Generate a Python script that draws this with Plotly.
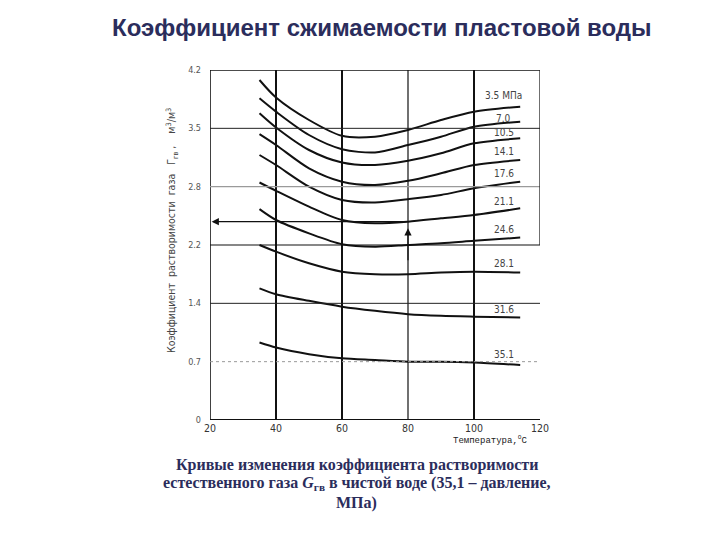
import plotly.graph_objects as go

# ---- data ----
temperature = [35, 40, 50, 60, 70, 80, 90, 100, 114]          # °C
pressures = ["3.5 МПа", "7.0", "10.5", "14.1", "17.6", "21.1", "24.6", "28.1", "31.6", "35.1"]
p_3_5 = [4.08, 3.87, 3.60, 3.41, 3.40, 3.48, 3.60, 3.70, 3.76]
p_7_0 = [3.86, 3.70, 3.42, 3.25, 3.21, 3.30, 3.40, 3.52, 3.58]
p_10_5 = [3.68, 3.51, 3.24, 3.09, 3.06, 3.11, 3.20, 3.32, 3.38]
p_14_1 = [3.43, 3.30, 3.02, 2.86, 2.82, 2.87, 2.96, 3.06, 3.12]
p_17_6 = [3.18, 3.06, 2.80, 2.64, 2.61, 2.65, 2.70, 2.78, 2.86]
p_21_1 = [2.85, 2.75, 2.56, 2.40, 2.36, 2.38, 2.42, 2.46, 2.54]
p_24_6 = [2.53, 2.40, 2.24, 2.11, 2.08, 2.10, 2.12, 2.15, 2.19]
p_28_1 = [2.10, 2.02, 1.88, 1.78, 1.75, 1.75, 1.77, 1.78, 1.77]
p_31_6 = [1.58, 1.51, 1.43, 1.36, 1.31, 1.27, 1.25, 1.24, 1.23]
p_35_1 = [0.93, 0.87, 0.79, 0.74, 0.72, 0.70, 0.70, 0.69, 0.66]
series = [p_3_5, p_7_0, p_10_5, p_14_1, p_17_6, p_21_1, p_24_6, p_28_1, p_31_6, p_35_1]

x_ticks = [20, 40, 60, 80, 100, 120]
x_tick_text = ["20", "40", "60", "80", "100", "120"]
y_ticks = [0, 0.7, 1.4, 2.1, 2.8, 3.5, 4.2]
y_tick_text = ["0", "0.7", "1.4", "2.2", "2.8", "3.5", "4.2"]

# example reading (arrows): 21.1 MPa at 80 °C
example_T = 80
example_value = 2.38

# ---- styles ----
NAVY = "#2b2d5c"
label_shift = [11, 3, 6, 9, 8, 7, 8, 9, 8, 11]   # px above line end
vgrid_width = {20: 1.6, 40: 2.0, 60: 2.0, 80: 1.2, 100: 2.0}
hgrid_style = {0: ("#111", 2.0, "solid"), 0.7: ("#9a9a9a", 1.0, "dot"),
               1.4: ("#222", 1.0, "solid"), 2.1: ("#111", 1.2, "solid"),
               2.8: ("#9a9a9a", 1.3, "solid"), 3.5: ("#222", 1.0, "solid"),
               4.2: ("#111", 1.6, "solid")}

fig = go.Figure()
for name, ys, sh in zip(pressures, series, label_shift):
    fig.add_trace(go.Scatter(x=temperature, y=ys, mode="lines", name=name,
                             line=dict(color="#111", width=2, shape="spline", smoothing=0.8),
                             showlegend=False, hoverinfo="skip"))
    fig.add_annotation(x=temperature[-1] - 5, y=ys[-1], text=name, showarrow=False,
                       yshift=sh, xanchor="center",
                       font=dict(family="Liberation Sans Narrow, DejaVu Sans Condensed", size=10, color="#444"))

shapes = []
for xv in x_ticks[:-1]:
    shapes.append(dict(type="line", xref="x", yref="y", x0=xv, x1=xv, y0=y_ticks[0], y1=y_ticks[-1],
                       line=dict(color="#111", width=vgrid_width[xv])))
for yv in y_ticks:
    c, w, d = hgrid_style[yv]
    shapes.append(dict(type="line", xref="x", yref="y", x0=x_ticks[0], x1=x_ticks[-1], y0=yv, y1=yv,
                       line=dict(color=c, width=w, dash=d)))
# partial right border
shapes.append(dict(type="line", xref="x", yref="y", x0=x_ticks[-1], x1=x_ticks[-1], y0=2.1, y1=y_ticks[-1],
                   line=dict(color="#222", width=1.3)))
fig.update_layout(shapes=shapes)

# arrows
fig.add_annotation(x=x_ticks[0] + 0.5, y=example_value, ax=example_T, ay=example_value,
                   xref="x", yref="y", axref="x", ayref="y", showarrow=True,
                   arrowhead=2, arrowsize=1.2, arrowwidth=1.2, arrowcolor="#111", text="")
fig.add_annotation(x=example_T, y=example_value - 0.08, ax=example_T, ay=1.9,
                   xref="x", yref="y", axref="x", ayref="y", showarrow=True,
                   arrowhead=2, arrowsize=1.2, arrowwidth=1.2, arrowcolor="#111", text="")

# axis label for temperature
fig.add_annotation(x=120, y=0, xref="x", yref="y", text="Температура,<sup>o</sup>C", showarrow=False,
                   xanchor="right", yanchor="top", yshift=-12, xshift=-10,
                   font=dict(family="Liberation Mono", size=9, color="#222"))

# y axis label
fig.add_annotation(text="Коэффициент  растворимости  газа   Г<sub>гв</sub> ,    м<sup>3</sup>/м<sup>3</sup>",
                   xref="paper", yref="paper", x=-0.115, y=0.54, textangle=-90, showarrow=False,
                   xanchor="center", yanchor="middle",
                   font=dict(family="DejaVu Sans Condensed", size=10.5, color="#444"))

# title
fig.add_annotation(text="<b>Коэффициент сжимаемости пластовой воды</b>", x=0.521, y=1.12,
                   xref="paper", yref="paper", showarrow=False, xanchor="center", yanchor="middle",
                   font=dict(family="Liberation Sans", size=24, color=NAVY))

cap_font = dict(family="Liberation Serif", size=16, color=NAVY)
fig.add_annotation(text="<b>Кривые изменения коэффициента растворимости</b>", xref="paper", yref="paper",
                   x=0.445, y=-0.129, showarrow=False, font=cap_font, yanchor="middle")
fig.add_annotation(text="<b>естественного газа <i>G</i><sub>гв</sub> в чистой воде (35,1 – давление,</b>",
                   xref="paper", yref="paper", x=0.445, y=-0.18, showarrow=False, font=cap_font,
                   yanchor="middle")
fig.add_annotation(text="<b>МПа)</b>", xref="paper", yref="paper", x=0.445, y=-0.237,
                   showarrow=False, font=cap_font, yanchor="middle")

fig.update_xaxes(range=[x_ticks[0], x_ticks[-1]], tickvals=x_ticks, ticktext=x_tick_text,
                 showgrid=False, zeroline=False, showline=False, ticks="",
                 tickfont=dict(family="Liberation Sans Narrow, DejaVu Sans Condensed", size=10.5, color="#333"))
fig.update_yaxes(range=[y_ticks[0], y_ticks[-1]], tickvals=y_ticks, ticktext=y_tick_text,
                 showgrid=False, zeroline=False, showline=False, ticks="", ticklabelstandoff=8,
                 tickfont=dict(family="Liberation Sans Narrow, DejaVu Sans Condensed", size=9, color="#555"))

fig.update_layout(width=720, height=540, autosize=False,
                  margin=dict(l=202, r=188, t=62, b=128, autoexpand=False),
                  paper_bgcolor="white", plot_bgcolor="white")

fig.write_html("out.html")
